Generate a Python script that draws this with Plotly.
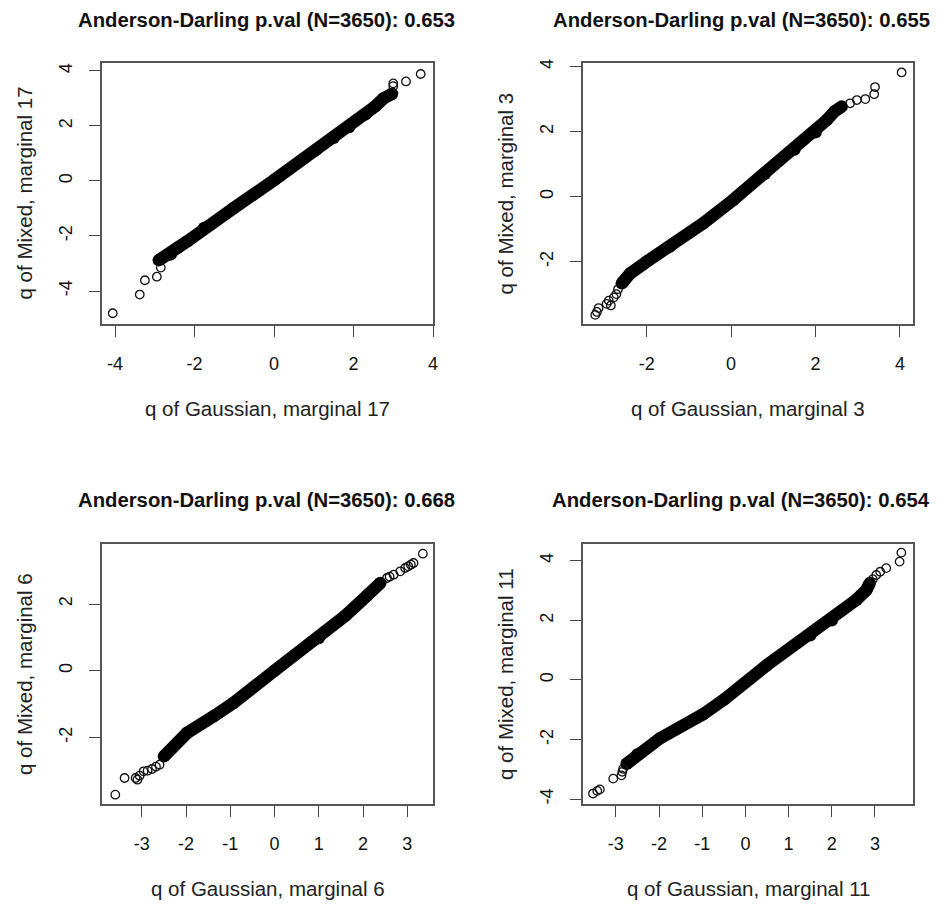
import plotly.graph_objects as go

# The page body has an 8px margin, so the figure is laid out in page pixels
# shifted by OFF.
PAGE_W, PAGE_H = 940, 904
OFF = 8
W, H = PAGE_W - OFF, PAGE_H - OFF
FONT = "Liberation Sans, Arial, Helvetica, sans-serif"

titles = ["Anderson-Darling p.val (N=3650): 0.653",
          "Anderson-Darling p.val (N=3650): 0.655",
          "Anderson-Darling p.val (N=3650): 0.668",
          "Anderson-Darling p.val (N=3650): 0.654"]
marginals = [17, 3, 6, 11]

# ---- dense central band ----
body_x_17 = [-2.9, -2.6, -2.43, -2.18, -1.76, -1.0, 0.0, 1.05, 1.5, 1.89, 2.3, 2.55, 2.75, 2.97]
body_y_17 = [-2.88, -2.67, -2.43, -2.19, -1.71, -0.97, 0.03, 1.12, 1.57, 1.96, 2.42, 2.72, 3.0, 3.17]
tail_x_17 = [-4.06, -3.38, -3.25, -2.95, -2.85, 2.96, 3.0, 3.0, 3.32, 3.69]
tail_y_17 = [-4.81, -4.13, -3.61, -3.48, -3.15, 3.2, 3.45, 3.55, 3.62, 3.89]

body_x_3 = [-2.59, -2.39, -2.0, -1.45, -0.66, 0.05, 0.8, 1.5, 2.0, 2.27, 2.45, 2.62]
body_y_3 = [-2.67, -2.36, -2.0, -1.54, -0.82, -0.1, 0.7, 1.45, 1.98, 2.36, 2.62, 2.77]
tail_x_3 = [-3.22, -3.18, -3.14, -2.95, -2.9, -2.85, -2.78, -2.72, -2.68,
            2.82, 2.98, 3.18, 3.39, 3.41, 4.04]
tail_y_3 = [-3.64, -3.55, -3.43, -3.3, -3.2, -3.35, -3.1, -3.0, -2.85,
            2.87, 2.97, 3.0, 3.15, 3.37, 3.82]

body_x_6 = [-2.5, -1.98, -1.38, -0.93, 0.0, 1.0, 1.6, 2.09, 2.39]
body_y_6 = [-2.57, -1.87, -1.37, -0.97, 0.0, 0.98, 1.65, 2.25, 2.63]
tail_x_6 = [-3.6, -3.39, -3.14, -3.1, -3.05, -2.96, -2.87, -2.77, -2.68, -2.6,
            2.54, 2.6, 2.69, 2.84, 2.95, 3.02, 3.08, 3.14, 3.35]
tail_y_6 = [-3.72, -3.22, -3.22, -3.27, -3.15, -3.02, -3.0, -2.95, -2.88, -2.82,
            2.78, 2.82, 2.88, 2.98, 3.08, 3.13, 3.18, 3.23, 3.51]

body_x_11 = [-2.75, -2.5, -1.98, -0.98, -0.48, 0.5, 1.5, 2.0, 2.57, 2.8, 2.88]
body_y_11 = [-2.81, -2.5, -1.96, -1.15, -0.64, 0.5, 1.5, 2.0, 2.69, 3.02, 3.25]
tail_x_11 = [-3.53, -3.43, -3.37, -3.06, -2.87, -2.85, -2.83,
             2.95, 3.03, 3.12, 3.26, 3.57, 3.61]
tail_y_11 = [-3.81, -3.72, -3.67, -3.31, -3.2, -3.08, -2.98,
             3.38, 3.52, 3.63, 3.75, 3.97, 4.27]

bodies = [(body_x_17, body_y_17), (body_x_3, body_y_3), (body_x_6, body_y_6), (body_x_11, body_y_11)]
tails = [(tail_x_17, tail_y_17), (tail_x_3, tail_y_3), (tail_x_6, tail_y_6), (tail_x_11, tail_y_11)]

x_ticks = [[-4, -2, 0, 2, 4], [-2, 0, 2, 4], [-3, -2, -1, 0, 1, 2, 3], [-3, -2, -1, 0, 1, 2, 3]]
y_ticks = [[-4, -2, 0, 2, 4], [-2, 0, 2, 4], [-2, 0, 2], [-4, -2, 0, 2, 4]]
x_ranges = [[-4.33, 4.0], [-3.51, 4.31], [-3.90, 3.58], [-3.76, 3.88]]
y_ranges = [[-5.2, 4.29], [-3.92, 4.11], [-4.0, 3.80], [-4.16, 4.56]]

# panel boxes in page pixels: left, right, top, bottom
boxes = [(102, 433, 63, 324), (583, 913, 63, 324), (102, 433, 544, 804), (583, 913, 544, 804)]
title_pos = [(266, 20), (741, 20), (266, 500), (741, 500)]


def fx(px):
    return (px - OFF) / W


def fy(py):
    return 1 - (py - OFF) / H


def labels(vals):
    return [str(v) for v in vals]  # R prints a plain hyphen-minus


fig = go.Figure()
annotations = []
for i in range(4):
    l, r, t, b = boxes[i]
    xa = "x" if i == 0 else f"x{i+1}"
    ya = "y" if i == 0 else f"y{i+1}"
    bx, by = bodies[i]
    tx, ty = tails[i]
    fig.add_trace(go.Scatter(x=bx, y=by, xaxis=xa, yaxis=ya, mode="lines+markers",
                             line=dict(color="black", width=12.5),
                             marker=dict(symbol="circle", size=12.5, color="black"),
                             showlegend=False, hoverinfo="skip"))
    fig.add_trace(go.Scatter(x=tx, y=ty, xaxis=xa, yaxis=ya, mode="markers",
                             marker=dict(symbol="circle-open", size=8.5, color="#111",
                                         line=dict(width=1.3, color="#111")),
                             showlegend=False, hoverinfo="skip"))
    axcommon = dict(showline=True, mirror=True, linecolor="#555", linewidth=1.6,
                    ticks="outside", ticklen=11, tickcolor="#444", tickwidth=1.4,
                    showgrid=False, zeroline=False, automargin=False,
                    tickfont=dict(family=FONT, size=18, color="#111"))
    key = "" if i == 0 else str(i + 1)
    fig.update_layout(**{
        f"xaxis{key}": dict(domain=[fx(l), fx(r)], range=x_ranges[i], tickvals=x_ticks[i],
                            ticktext=labels(x_ticks[i]),
                            anchor=ya, ticklabelstandoff=12, **axcommon),
        f"yaxis{key}": dict(domain=[fy(b), fy(t)], range=y_ranges[i], tickvals=y_ticks[i],
                            ticktext=labels(y_ticks[i]),
                            anchor=xa, tickangle=-90, ticklabelstandoff=10, **axcommon),
    })
    cx = (l + r) / 2
    cy = (t + b) / 2
    tx_, ty_ = title_pos[i]
    annotations.append(dict(text=f"<b>{titles[i]}</b>", x=fx(tx_), y=fy(ty_),
                            xref="paper", yref="paper", showarrow=False,
                            xanchor="center", yanchor="middle",
                            font=dict(family=FONT, size=20.3, color="#111")))
    annotations.append(dict(text=f"q of Gaussian, marginal {marginals[i]}", x=fx(cx),
                            y=fy(b + 84), xref="paper", yref="paper", showarrow=False,
                            xanchor="center", yanchor="middle",
                            font=dict(family=FONT, size=20.5, color="#222")))
    annotations.append(dict(text=f"q of Mixed, marginal {marginals[i]}", x=fx(l - 78),
                            y=fy(cy), xref="paper", yref="paper", showarrow=False,
                            xanchor="center", yanchor="middle", textangle=-90,
                            font=dict(family=FONT, size=20.5, color="#222")))

fig.update_layout(width=W, height=H, margin=dict(l=0, r=0, t=0, b=0),
                  paper_bgcolor="white", plot_bgcolor="white",
                  annotations=annotations)
fig.write_html("out.html")
